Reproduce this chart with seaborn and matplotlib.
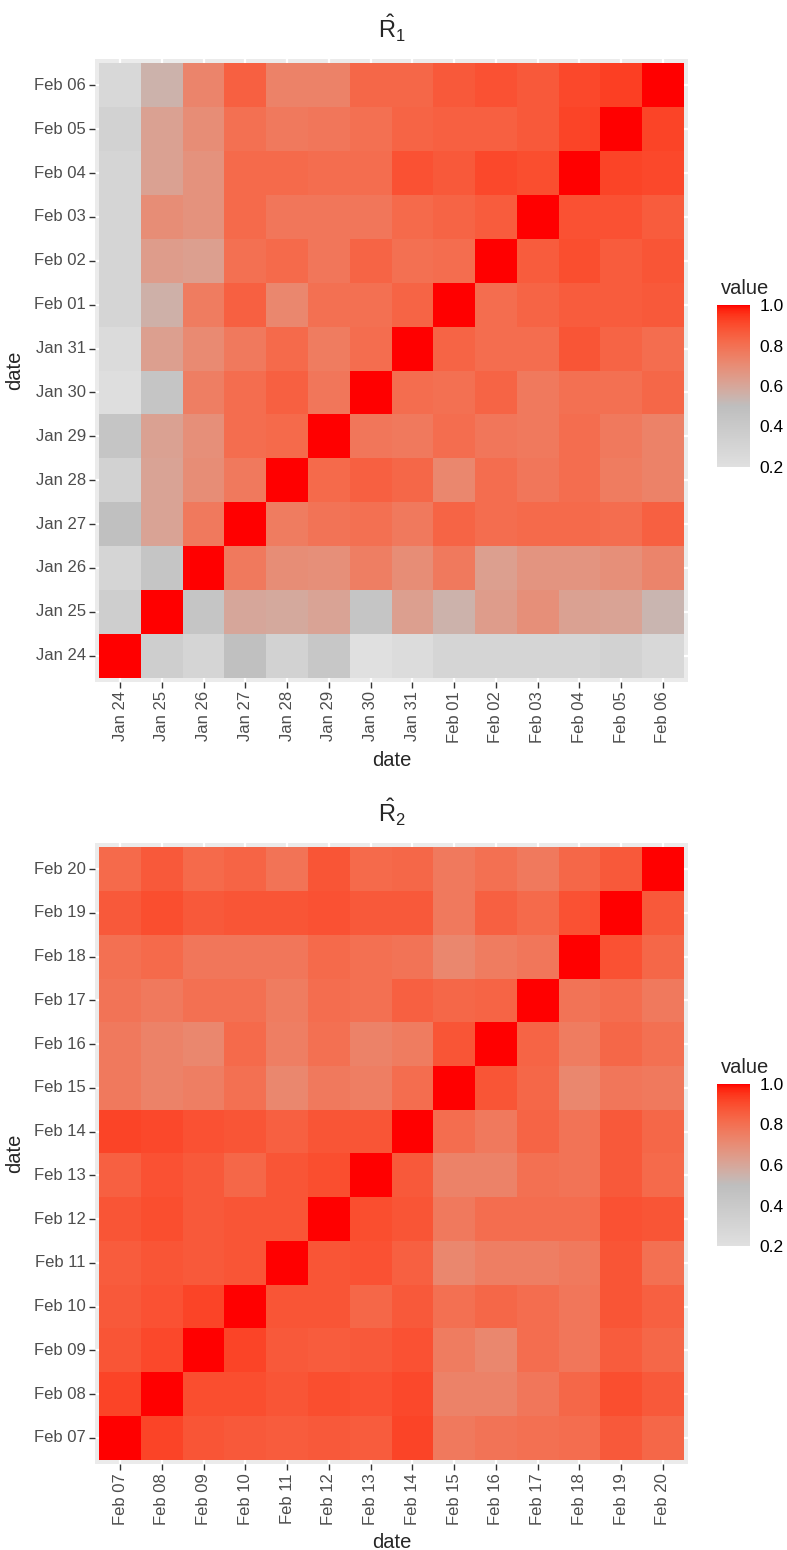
import numpy as np
import pandas as pd
import seaborn as sns
import matplotlib.pyplot as plt
from matplotlib.colors import ListedColormap

# dates on both axes
dates_1 = ["Jan 24", "Jan 25", "Jan 26", "Jan 27", "Jan 28", "Jan 29", "Jan 30",
           "Jan 31", "Feb 01", "Feb 02", "Feb 03", "Feb 04", "Feb 05", "Feb 06"]
dates_2 = ["Feb 07", "Feb 08", "Feb 09", "Feb 10", "Feb 11", "Feb 12", "Feb 13",
           "Feb 14", "Feb 15", "Feb 16", "Feb 17", "Feb 18", "Feb 19", "Feb 20"]

# R1: one row per y-date (Jan 24 first), columns in x-date order
r1_rows = [
    [1.00, 0.36, 0.30, 0.48, 0.32, 0.42, 0.20, 0.24, 0.30, 0.30, 0.30, 0.30, 0.32, 0.27],
    [0.36, 1.00, 0.44, 0.60, 0.59, 0.61, 0.44, 0.63, 0.55, 0.64, 0.69, 0.62, 0.61, 0.54],
    [0.30, 0.44, 1.00, 0.77, 0.70, 0.69, 0.75, 0.70, 0.77, 0.63, 0.67, 0.67, 0.69, 0.73],
    [0.48, 0.61, 0.77, 1.00, 0.76, 0.79, 0.80, 0.77, 0.84, 0.81, 0.82, 0.82, 0.81, 0.85],
    [0.32, 0.61, 0.70, 0.77, 1.00, 0.82, 0.85, 0.83, 0.72, 0.81, 0.78, 0.81, 0.76, 0.74],
    [0.44, 0.62, 0.69, 0.81, 0.82, 1.00, 0.78, 0.77, 0.81, 0.78, 0.77, 0.81, 0.77, 0.74],
    [0.22, 0.44, 0.75, 0.81, 0.85, 0.78, 1.00, 0.81, 0.80, 0.84, 0.77, 0.80, 0.80, 0.83],
    [0.25, 0.63, 0.71, 0.77, 0.82, 0.76, 0.81, 1.00, 0.84, 0.81, 0.81, 0.88, 0.84, 0.81],
    [0.30, 0.56, 0.76, 0.85, 0.72, 0.80, 0.80, 0.84, 1.00, 0.81, 0.84, 0.86, 0.86, 0.87],
    [0.30, 0.64, 0.63, 0.80, 0.82, 0.78, 0.84, 0.80, 0.81, 1.00, 0.86, 0.90, 0.86, 0.88],
    [0.30, 0.70, 0.68, 0.82, 0.78, 0.78, 0.78, 0.82, 0.84, 0.86, 1.00, 0.89, 0.89, 0.86],
    [0.30, 0.62, 0.68, 0.82, 0.82, 0.81, 0.81, 0.89, 0.87, 0.91, 0.90, 1.00, 0.92, 0.91],
    [0.32, 0.62, 0.70, 0.80, 0.77, 0.78, 0.80, 0.84, 0.85, 0.85, 0.87, 0.92, 1.00, 0.92],
    [0.27, 0.55, 0.73, 0.85, 0.74, 0.74, 0.83, 0.83, 0.87, 0.89, 0.87, 0.91, 0.93, 1.00],
]

# R2: one row per y-date (Feb 07 first)
r2_rows = [
    [1.00, 0.92, 0.88, 0.87, 0.86, 0.87, 0.86, 0.92, 0.77, 0.79, 0.80, 0.81, 0.87, 0.83],
    [0.92, 1.00, 0.90, 0.90, 0.88, 0.90, 0.89, 0.91, 0.74, 0.74, 0.78, 0.83, 0.90, 0.87],
    [0.88, 0.91, 1.00, 0.92, 0.87, 0.86, 0.87, 0.89, 0.76, 0.72, 0.81, 0.78, 0.86, 0.83],
    [0.87, 0.89, 0.92, 1.00, 0.88, 0.88, 0.83, 0.87, 0.80, 0.83, 0.81, 0.78, 0.88, 0.85],
    [0.86, 0.88, 0.87, 0.88, 1.00, 0.88, 0.89, 0.85, 0.72, 0.75, 0.75, 0.77, 0.88, 0.80],
    [0.88, 0.90, 0.87, 0.88, 0.88, 1.00, 0.90, 0.88, 0.77, 0.81, 0.81, 0.81, 0.89, 0.88],
    [0.85, 0.89, 0.87, 0.83, 0.88, 0.90, 1.00, 0.87, 0.74, 0.74, 0.80, 0.79, 0.87, 0.82],
    [0.92, 0.91, 0.89, 0.88, 0.85, 0.88, 0.88, 1.00, 0.81, 0.77, 0.84, 0.79, 0.87, 0.83],
    [0.77, 0.74, 0.75, 0.80, 0.72, 0.77, 0.75, 0.81, 1.00, 0.88, 0.83, 0.72, 0.78, 0.77],
    [0.77, 0.74, 0.72, 0.82, 0.75, 0.80, 0.74, 0.76, 0.88, 1.00, 0.84, 0.76, 0.83, 0.80],
    [0.79, 0.77, 0.80, 0.80, 0.76, 0.81, 0.80, 0.85, 0.83, 0.84, 1.00, 0.79, 0.81, 0.77],
    [0.80, 0.82, 0.78, 0.78, 0.78, 0.82, 0.80, 0.79, 0.72, 0.76, 0.78, 1.00, 0.89, 0.83],
    [0.87, 0.90, 0.87, 0.88, 0.88, 0.89, 0.87, 0.87, 0.77, 0.85, 0.82, 0.89, 1.00, 0.87],
    [0.82, 0.87, 0.82, 0.84, 0.79, 0.88, 0.82, 0.83, 0.77, 0.80, 0.77, 0.83, 0.87, 1.00],
]

sns.set_style("white")
plt.rcParams['font.family'] = ['Liberation Sans', 'DejaVu Sans']
plt.rcParams['mathtext.fontset'] = 'custom'
plt.rcParams['mathtext.rm'] = 'Liberation Sans'
plt.rcParams['mathtext.it'] = 'Liberation Sans'

# light grey -> grey -> red, interpolated in Lab like ggplot
M = np.array([[0.4124, 0.3576, 0.1805], [0.2126, 0.7152, 0.0722], [0.0193, 0.1192, 0.9505]])
WHITE = np.array([0.95047, 1.0, 1.08883])


def to_lab(c):
    c = np.asarray(c, float)
    lin = np.where(c <= 0.04045, c / 12.92, ((c + 0.055) / 1.055) ** 2.4)
    xyz = M @ lin / WHITE
    f = np.where(xyz > 0.008856, np.cbrt(xyz), 7.787 * xyz + 16 / 116)
    return np.array([116 * f[1] - 16, 500 * (f[0] - f[1]), 200 * (f[1] - f[2])])


def from_lab(lab):
    L, a, b = lab
    fy = (L + 16) / 116
    f = np.array([fy + a / 500, fy, fy - b / 200])
    xyz = np.where(f ** 3 > 0.008856, f ** 3, (f - 16 / 116) / 7.787) * WHITE
    lin = np.clip(np.linalg.inv(M) @ xyz, 0, None)
    c = np.where(lin <= 0.0031308, 12.92 * lin, 1.055 * lin ** (1 / 2.4) - 0.055)
    return np.clip(c, 0, 1)


lo, mid, hi = to_lab([0.878, 0.878, 0.878]), to_lab([0.745, 0.745, 0.745]), to_lab([1, 0, 0])
cols = []
for v in np.linspace(0.2, 1.0, 256):
    if v <= 0.5:
        t = (v - 0.2) / 0.3
        cols.append(from_lab(lo + (mid - lo) * t))
    else:
        t = (v - 0.5) / 0.5
        cols.append(from_lab(mid + (hi - mid) * t))
cmap = ListedColormap(cols)

W, H = 787, 1550
fig = plt.figure(figsize=(W / 100, H / 100), dpi=100)


def px(x0, y0, x1, y1):
    return [x0 / W, 1 - y1 / H, (x1 - x0) / W, (y1 - y0) / H]


panels = [
    (dates_1, r1_rows, r'$\hat{R}_1$', px(95, 59, 688, 682), px(717, 305, 750, 467), 28),
    (dates_2, r2_rows, r'$\hat{R}_2$', px(95, 843, 688, 1464), px(717, 1084, 750, 1246), 812),
]

for dates, rows, title, box, cbox, ty in panels:
    ax = fig.add_axes(box)
    cax = fig.add_axes(cbox)
    df = pd.DataFrame(rows, index=dates, columns=dates).iloc[::-1]
    sns.heatmap(df, ax=ax, cmap=cmap, vmin=0.2, vmax=1.0, cbar_ax=cax, linewidths=0)
    ax.set_facecolor('#EBEBEB')
    ax.set_xlim(-0.1, 14.1)
    ax.set_ylim(14.1, -0.1)
    ax.grid(True, color='white', linewidth=1.6)
    ax.set_axisbelow(True)
    for s in ax.spines.values():
        s.set_visible(False)
    ax.set_xticklabels(dates, rotation=90)
    ax.set_yticklabels(df.index, rotation=0)
    ax.tick_params(axis='both', length=4, width=1, color='#333333',
                   labelcolor='#4D4D4D', labelsize=12, pad=2.5, bottom=True, left=True)
    ax.set_xlabel('date', fontsize=14.5, labelpad=6)
    ax.set_ylabel('date', fontsize=14.5, labelpad=7)
    fig.text((box[0] + box[2] / 2), 1 - ty / H, title, ha='center', va='center', fontsize=17)

    cb = ax.collections[0].colorbar
    cb.set_ticks([0.2, 0.4, 0.6, 0.8, 1.0])
    cb.set_ticklabels(['0.2', '0.4', '0.6', '0.8', '1.0'])
    cb.outline.set_visible(False)
    cax.tick_params(direction='in', length=5, width=1, color='white', left=True, right=True,
                    labelsize=12.5, labelcolor='black', pad=7)
    cax.set_title('value', fontsize=14.5, loc='left', pad=8, x=0.12)

fig.savefig('out.png', dpi=100)
